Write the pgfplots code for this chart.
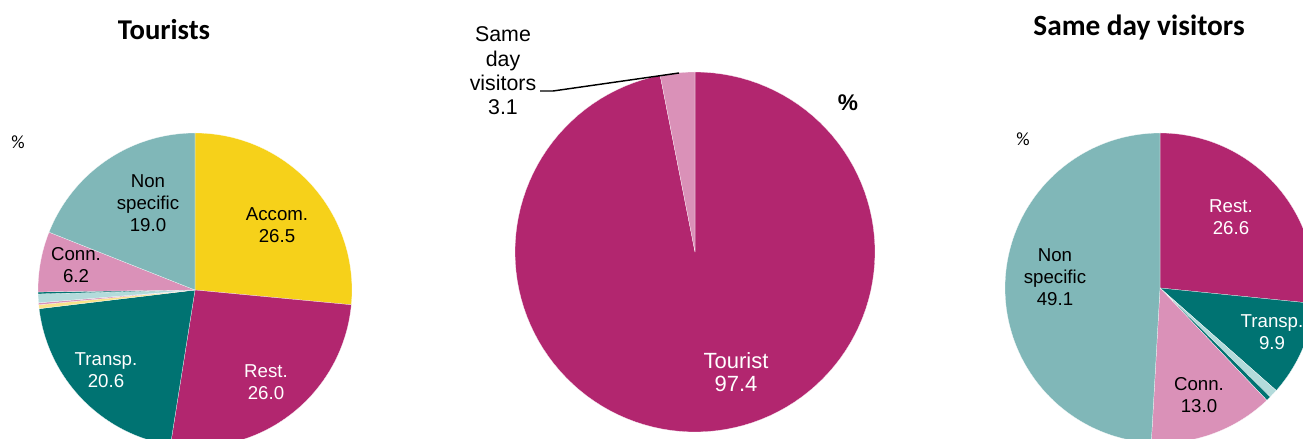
\documentclass[border=0pt]{standalone}
\usepackage{pgfplots}
\pgfplotsset{compat=1.18}
\usepackage{fontspec}
\setmainfont{Liberation Sans}
\newfontfamily\calibri{Carlito}
\definecolor{cyel}{HTML}{F6D11A}
\definecolor{cmag}{HTML}{B2266F}
\definecolor{cteal}{HTML}{007372}
\definecolor{cpink}{HTML}{DA91B8}
\definecolor{cnon}{HTML}{80B7B8}
\definecolor{clblue}{HTML}{B3DBDB}
\definecolor{clyel}{HTML}{F9E38A}
% slice: cx, cy, r, start %, end %, colour
\newcommand{\slice}[6]{%
  \addplot[fill=#6, draw=white, line width=0.15pt, domain=#4:#5, samples=120, variable=\t]
    ({#1+#3*sin(3.6*\t)}, {#2+#3*cos(3.6*\t)}) -- (axis cs:#1,#2) -- cycle;}
\begin{document}
\begin{tikzpicture}
\begin{axis}[hide axis, scale only axis, width=977.25pt, height=329.25pt,
  xmin=0, xmax=1303, ymin=-439, ymax=0, clip=true]
% ---- Tourists: Accom 26.5, Rest 26.0, Transp 20.6, 0.4, 0.2, 0.9, 0.2, Conn 6.2, Non specific 19.0
\slice{195}{-290}{157}{0}{26.5}{cyel}
\slice{195}{-290}{157}{26.5}{52.5}{cmag}
\slice{195}{-290}{157}{52.5}{73.1}{cteal}
\slice{195}{-290}{157}{73.1}{73.5}{clyel}
\slice{195}{-290}{157}{73.5}{73.7}{cpink}
\slice{195}{-290}{157}{73.7}{74.6}{clblue}
\slice{195}{-290}{157}{74.6}{74.8}{cteal}
\slice{195}{-290}{157}{74.8}{81.0}{cpink}
\slice{195}{-290}{157}{81.0}{100}{cnon}
% ---- Total: Tourist 97.4, Same day visitors 3.1
\slice{695}{-252}{180}{0}{96.9}{cmag}
\slice{695}{-252}{180}{96.9}{100}{cpink}
% ---- Same day visitors: Rest 26.6, Transp 9.9, 0.9, 0.5, Conn 13.0, Non specific 49.1
\slice{1160}{-288}{155}{0}{26.6}{cmag}
\slice{1160}{-288}{155}{26.6}{36.5}{cteal}
\slice{1160}{-288}{155}{36.5}{37.4}{clblue}
\slice{1160}{-288}{155}{37.4}{37.9}{cteal}
\slice{1160}{-288}{155}{37.9}{50.9}{cpink}
\slice{1160}{-288}{155}{50.9}{100}{cnon}
% leader line
\addplot[black, line width=1.1pt] coordinates {(540,-91) (553,-91) (679,-73)};
% titles
\node[font=\calibri\bfseries\fontsize{21.5}{24}\selectfont] at (axis cs:164,-30) {Tourists};
\node[font=\calibri\bfseries\fontsize{22}{24}\selectfont] at (axis cs:1139,-28) {Same day visitors};
\node[font=\calibri\fontsize{14}{16}\selectfont] at (axis cs:18,-142) {\%};
\node[font=\calibri\fontsize{14}{16}\selectfont] at (axis cs:1023,-139) {\%};
\node[font=\bfseries\fontsize{17}{19}\selectfont] at (axis cs:848,-103) {\%};
% labels
\begin{scope}[every node/.style={align=center, font=\fontsize{14}{16.5}\selectfont}]
\node at (axis cs:148,-203) {Non\\specific\\19.0};
\node at (axis cs:277,-225) {Accom.\\26.5};
\node at (axis cs:76,-265) {Conn.\\6.2};
\node[text=white] at (axis cs:106,-370) {Transp.\\20.6};
\node[text=white] at (axis cs:266,-382) {Rest.\\26.0};
\node[text=white] at (axis cs:1231,-217) {Rest.\\26.6};
\node at (axis cs:1055,-277) {Non\\specific\\49.1};
\node[text=white] at (axis cs:1272,-332) {Transp.\\9.9};
\node at (axis cs:1199,-395) {Conn.\\13.0};
\end{scope}
\node[align=center, text=white, font=\fontsize{16.5}{17.5}\selectfont] at (axis cs:736,-372) {Tourist\\97.4};
\node[align=center, font=\fontsize{16}{18.2}\selectfont] at (axis cs:503,-71) {Same\\day\\visitors\\3.1};
\end{axis}
\pgfresetboundingbox
\path (current axis.south west) rectangle (current axis.north east);
\end{tikzpicture}
\end{document}
